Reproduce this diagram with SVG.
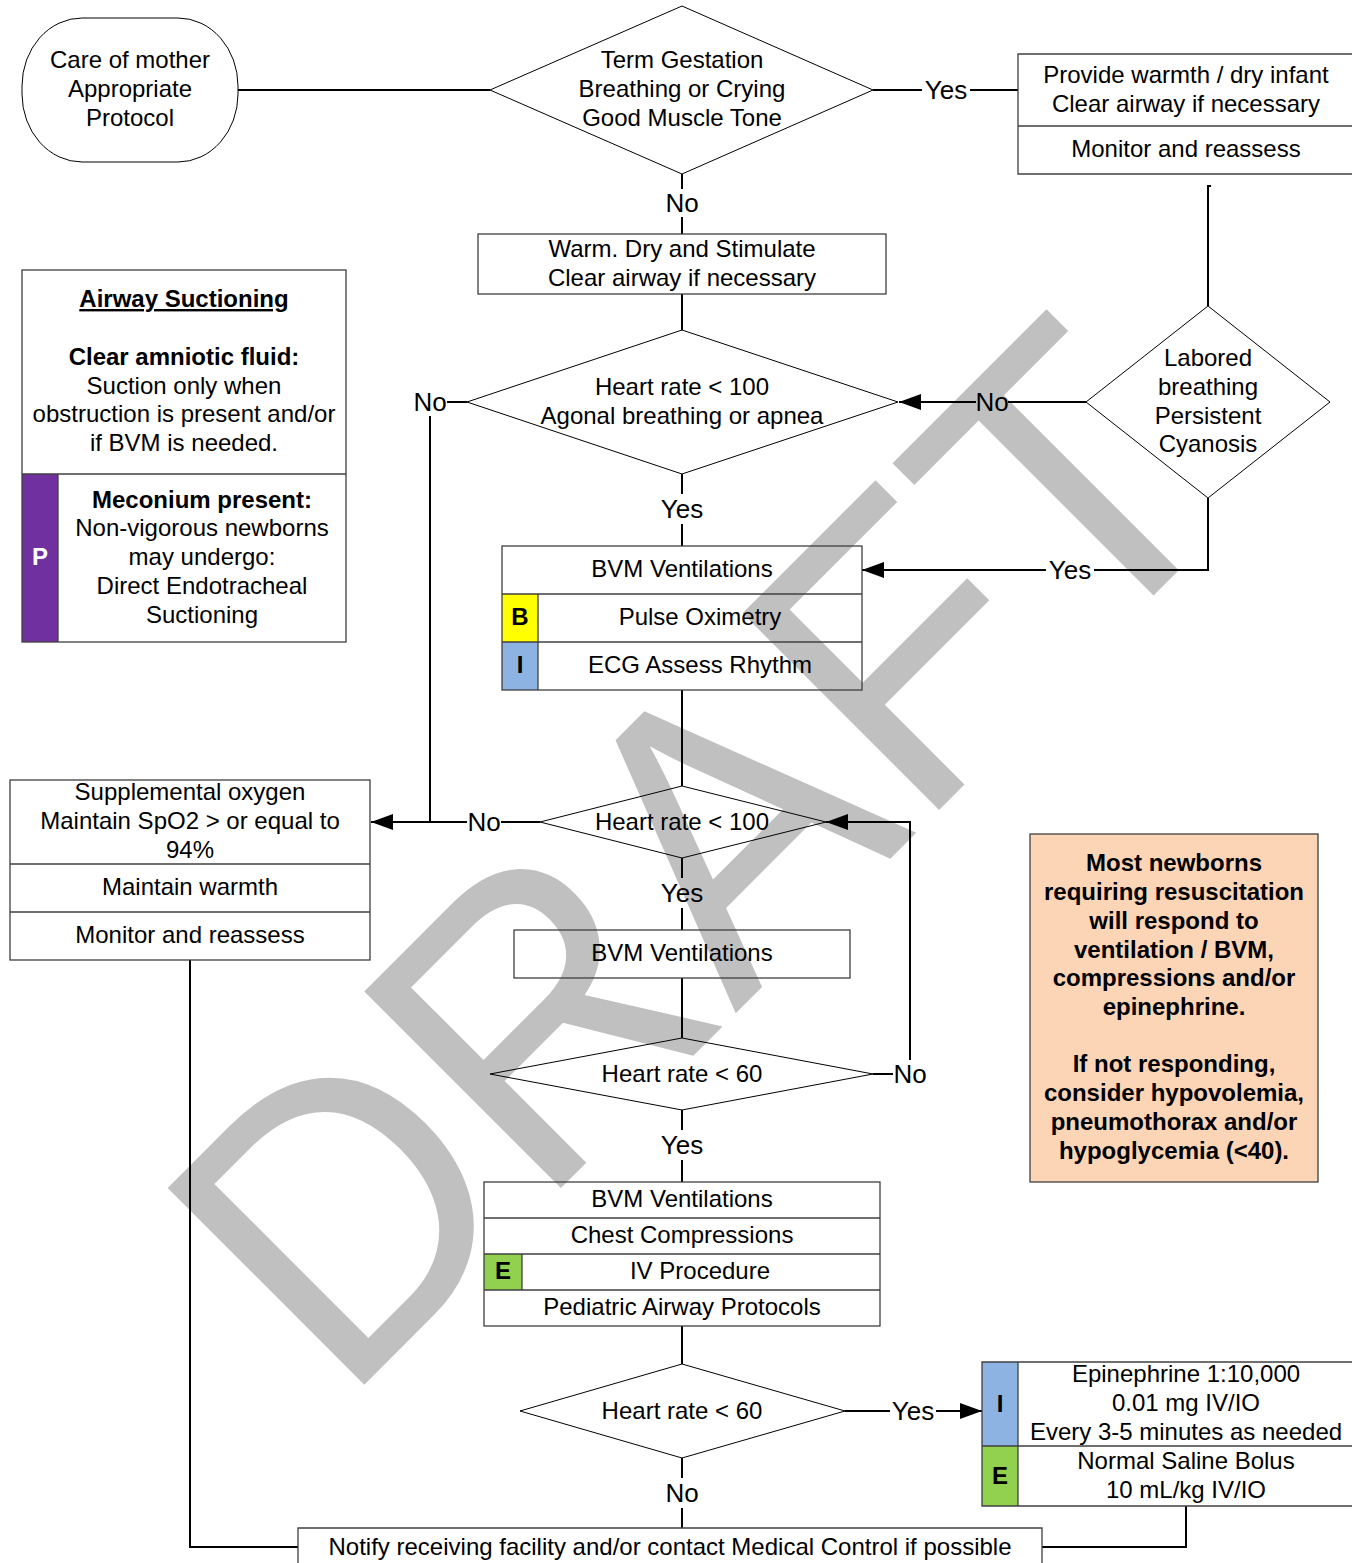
<svg xmlns="http://www.w3.org/2000/svg" width="1352" height="1563" viewBox="0 0 1352 1563">
<defs>
<style>
text{font-family:"Liberation Sans",Arial,sans-serif;font-size:24px;fill:#000;text-anchor:middle}
.b{font-weight:bold}
.lbl{font-size:26px}
.box{fill:none;stroke:#404040;stroke-width:1.3}
.dia{fill:none;stroke:#000;stroke-width:1}
.con{fill:none;stroke:#000;stroke-width:2}
.arr{marker-end:url(#ah)}
</style>
<marker id="ah" viewBox="0 0 22 16" refX="22" refY="8" markerWidth="22" markerHeight="16" markerUnits="userSpaceOnUse" orient="auto">
<path d="M0,0 L22,8 L0,16 Z" fill="#000"/>
</marker>
</defs>
<rect width="1352" height="1563" fill="#fff"/>
<g id="watermark">
<text x="0" y="0" transform="translate(342,1407) rotate(-45) scale(1,1.05)" style="font-size:385px;fill:#c0c0c0;text-anchor:start">DRAFT</text>
</g>
<g id="connectors">
<path class="con" d="M238,90 H490"/>
<path class="con" d="M873,90 H922 M970,90 H1018"/>
<path class="con" d="M682,174 V189 M682,217 V234"/>
<path class="con" d="M682,294 V330"/>
<path class="con" d="M1211,186 H1208 V306"/>
<path class="con" d="M1086,402 H1008"/>
<path class="con arr" d="M976,402 H899"/>
<path class="con" d="M467,402 H447 M430,416 V822"/>
<path class="con" d="M682,474 V494 M682,524 V546"/>
<path class="con" d="M1208,498 V570 H1094"/>
<path class="con arr" d="M1046,570 H862"/>
<path class="con" d="M682,690 V786"/>
<path class="con" d="M540,822 H501"/>
<path class="con arr" d="M467,822 H371"/>
<path class="con" d="M682,858 V878 M682,908 V930"/>
<path class="con" d="M682,978 V1038"/>
<path class="con" d="M873,1074 H893"/>
<path class="con arr" d="M910,1060 V822 H826"/>
<path class="con" d="M682,1110 V1130 M682,1160 V1182"/>
<path class="con" d="M682,1326 V1364"/>
<path class="con" d="M845,1411 H890"/>
<path class="con arr" d="M936,1411 H982"/>
<path class="con" d="M682,1458 V1478 M682,1508 V1528"/>
<path class="con" d="M190,960 V1547 H298"/>
<path class="con" d="M1186,1506 V1547 H1042"/>
<text class="lbl" x="946" y="99">Yes</text>
<text class="lbl" x="682" y="212">No</text>
<text class="lbl" x="992" y="411">No</text>
<text class="lbl" x="430" y="411">No</text>
<text class="lbl" x="682" y="518">Yes</text>
<text class="lbl" x="1070" y="579">Yes</text>
<text class="lbl" x="484" y="831">No</text>
<text class="lbl" x="682" y="902">Yes</text>
<text class="lbl" x="910" y="1083">No</text>
<text class="lbl" x="682" y="1154">Yes</text>
<text class="lbl" x="913" y="1420">Yes</text>
<text class="lbl" x="682" y="1502">No</text>
</g>
<g id="care-of-mother">
<rect x="22" y="18" width="216" height="144" rx="60" ry="68" class="box" style="stroke:#000;stroke-width:1"/>
<text x="130" y="68">Care of mother</text>
<text x="130" y="97">Appropriate</text>
<text x="130" y="126">Protocol</text>
</g>
<g id="term-gestation">
<polygon class="dia" points="682,6 873,90 682,174 490,90"/>
<text x="682" y="68">Term Gestation</text>
<text x="682" y="97">Breathing or Crying</text>
<text x="682" y="126">Good Muscle Tone</text>
</g>
<g id="provide-warmth">
<path class="box" d="M1360,54 H1018 V174 H1360 M1018,126 H1360"/>
<text x="1186" y="83">Provide warmth / dry infant</text>
<text x="1186" y="112">Clear airway if necessary</text>
<text x="1186" y="157">Monitor and reassess</text>
</g>
<g id="warm-dry">
<rect class="box" x="478" y="234" width="408" height="60"/>
<text x="682" y="257">Warm. Dry and Stimulate</text>
<text x="682" y="286">Clear airway if necessary</text>
</g>
<g id="airway-suctioning">
<rect x="22" y="474" width="36" height="168" fill="#7030a0"/>
<rect class="box" x="22" y="270" width="324" height="372"/>
<path class="box" d="M22,474 H346 M58,474 V642"/>
<text class="b" x="184" y="307" text-decoration="underline">Airway Suctioning</text>
<text class="b" x="184" y="365">Clear amniotic fluid:</text>
<text x="184" y="394">Suction only when</text>
<text x="184" y="422">obstruction is present and/or</text>
<text x="184" y="451">if BVM is needed.</text>
<text class="b" x="40" y="565" style="fill:#fff">P</text>
<text class="b" x="202" y="508">Meconium present:</text>
<text x="202" y="536">Non-vigorous newborns</text>
<text x="202" y="565">may undergo:</text>
<text x="202" y="594">Direct Endotracheal</text>
<text x="202" y="623">Suctioning</text>
</g>
<g id="labored-breathing">
<polygon class="dia" points="1208,306 1330,402 1208,498 1086,402"/>
<text x="1208" y="366">Labored</text>
<text x="1208" y="395">breathing</text>
<text x="1208" y="424">Persistent</text>
<text x="1208" y="452">Cyanosis</text>
</g>
<g id="hr100-agonal">
<polygon class="dia" points="682,330 898,402 682,474 467,402"/>
<text x="682" y="395">Heart rate &lt; 100</text>
<text x="682" y="424">Agonal breathing or apnea</text>
</g>
<g id="bvm-group">
<rect x="502" y="594" width="36" height="48" fill="#ffff00"/>
<rect x="502" y="642" width="36" height="48" fill="#8db3e2"/>
<rect class="box" x="502" y="546" width="360" height="144"/>
<path class="box" d="M502,594 H862 M502,642 H862 M538,594 V690"/>
<text x="682" y="577">BVM Ventilations</text>
<text class="b" x="520" y="625">B</text>
<text x="700" y="625">Pulse Oximetry</text>
<text class="b" x="520" y="673">I</text>
<text x="700" y="673">ECG Assess Rhythm</text>
</g>
<g id="hr100">
<polygon class="dia" points="682,786 826,822 682,858 540,822"/>
<text x="682" y="830">Heart rate &lt; 100</text>
</g>
<g id="supplemental-oxygen">
<rect class="box" x="10" y="780" width="360" height="180"/>
<path class="box" d="M10,864 H370 M10,912 H370"/>
<text x="190" y="800">Supplemental oxygen</text>
<text x="190" y="829">Maintain SpO2 &gt; or equal to</text>
<text x="190" y="858">94%</text>
<text x="190" y="895">Maintain warmth</text>
<text x="190" y="943">Monitor and reassess</text>
</g>
<g id="bvm-2">
<rect class="box" x="514" y="930" width="336" height="48"/>
<text x="682" y="961">BVM Ventilations</text>
</g>
<g id="hr60-a">
<polygon class="dia" points="682,1038 873,1074 682,1110 490,1074"/>
<text x="682" y="1082">Heart rate &lt; 60</text>
</g>
<g id="compressions-group">
<rect x="484" y="1254" width="38" height="36" fill="#92d050"/>
<rect class="box" x="484" y="1182" width="396" height="144"/>
<path class="box" d="M484,1218 H880 M484,1254 H880 M484,1290 H880 M522,1254 V1290"/>
<text x="682" y="1207">BVM Ventilations</text>
<text x="682" y="1243">Chest Compressions</text>
<text class="b" x="503" y="1279">E</text>
<text x="700" y="1279">IV Procedure</text>
<text x="682" y="1315">Pediatric Airway Protocols</text>
</g>
<g id="hr60-b">
<polygon class="dia" points="682,1364 845,1411 682,1458 520,1411"/>
<text x="682" y="1419">Heart rate &lt; 60</text>
</g>
<g id="epinephrine">
<rect x="982" y="1362" width="36" height="84" fill="#8db3e2"/>
<rect x="982" y="1446" width="36" height="60" fill="#92d050"/>
<path class="box" d="M1360,1362 H982 V1506 H1360 M982,1446 H1360 M1018,1362 V1506"/>
<text class="b" x="1000" y="1412">I</text>
<text class="b" x="1000" y="1484">E</text>
<text x="1186" y="1382">Epinephrine 1:10,000</text>
<text x="1186" y="1411">0.01 mg IV/IO</text>
<text x="1186" y="1440">Every 3-5 minutes as needed</text>
<text x="1186" y="1469">Normal Saline Bolus</text>
<text x="1186" y="1498">10 mL/kg IV/IO</text>
</g>
<g id="notify">
<path class="box" d="M298,1570 V1528 H1042 V1570"/>
<text x="670" y="1555">Notify receiving facility and/or contact Medical Control if possible</text>
</g>
<g id="note">
<rect x="1030" y="834" width="288" height="348" fill="#fbd5b5" stroke="#404040" stroke-width="1.3"/>
<text class="b" x="1174" y="871">Most newborns</text>
<text class="b" x="1174" y="900">requiring resuscitation</text>
<text class="b" x="1174" y="929">will respond to</text>
<text class="b" x="1174" y="958">ventilation / BVM,</text>
<text class="b" x="1174" y="986">compressions and/or</text>
<text class="b" x="1174" y="1015">epinephrine.</text>
<text class="b" x="1174" y="1072">If not responding,</text>
<text class="b" x="1174" y="1101">consider hypovolemia,</text>
<text class="b" x="1174" y="1130">pneumothorax and/or</text>
<text class="b" x="1174" y="1159">hypoglycemia (&lt;40).</text>
</g>
</svg>
